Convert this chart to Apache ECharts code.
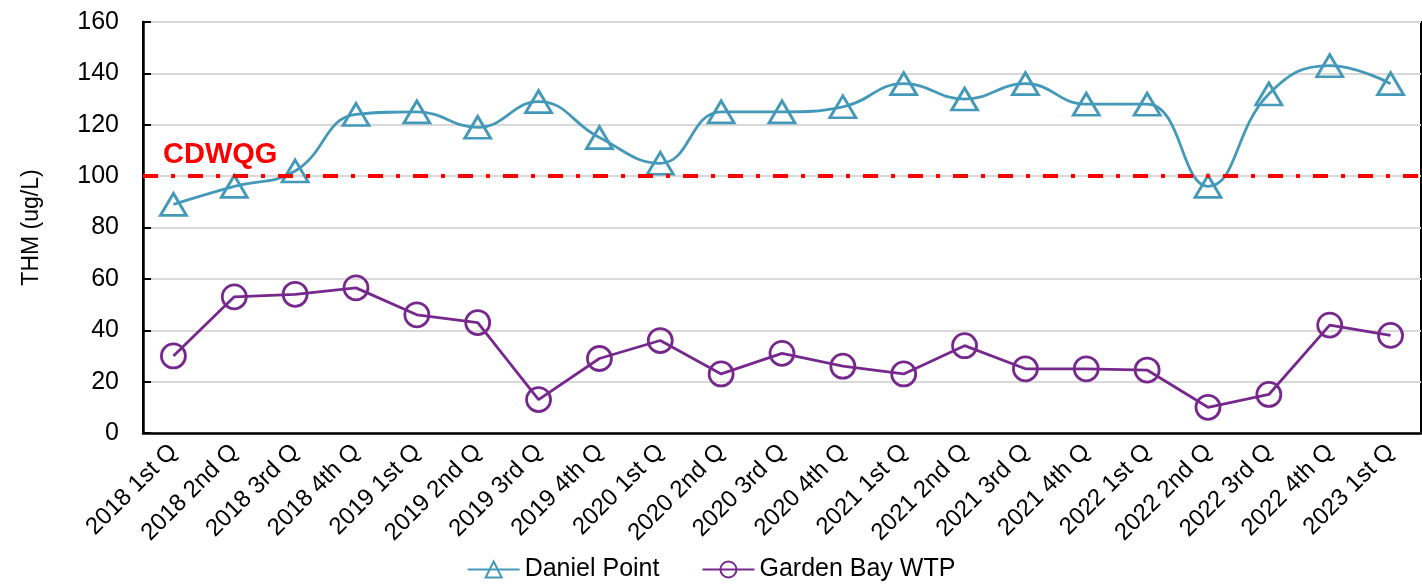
<!DOCTYPE html>
<html>
<head>
<meta charset="utf-8">
<script src="https://cdn.jsdelivr.net/npm/echarts@6/dist/echarts.min.js"></script>
<style>
  html, body { margin: 0; padding: 0; background: #fff; }
  #chart { width: 1422px; height: 587px; }
</style>
</head>
<body>
<div id="chart"></div>
<script>
const quarters = [
  '2018 1st Q', '2018 2nd Q', '2018 3rd Q', '2018 4th Q',
  '2019 1st Q', '2019 2nd Q', '2019 3rd Q', '2019 4th Q',
  '2020 1st Q', '2020 2nd Q', '2020 3rd Q', '2020 4th Q',
  '2021 1st Q', '2021 2nd Q', '2021 3rd Q', '2021 4th Q',
  '2022 1st Q', '2022 2nd Q', '2022 3rd Q', '2022 4th Q',
  '2023 1st Q'
]
// THM (ug/L)
const danielPoint = [89, 96, 102, 124, 125, 119, 129, 115, 105, 125, 125, 127, 136, 130, 136, 128, 128, 96, 132, 143, 136]
const gardenBay = [30, 53, 54, 56.5, 46, 43, 13, 29, 36, 23, 31, 26, 23, 34, 25, 25, 24.5, 10, 15, 42, 38]
const cdwqg = 100

const font = 'Liberation Sans, Arial, sans-serif'
const chart = echarts.init(document.getElementById('chart'))

chart.setOption({
  animation: false,
  textStyle: { fontFamily: font, color: '#000' },
  grid: {
    left: 143, right: 1, top: 22, bottom: 154,
    show: true, borderColor: '#000', borderWidth: 2
  },
  legend: {
    left: 'center', bottom: 0,
    itemWidth: 52, itemHeight: 20, itemGap: 42,
    textStyle: { fontSize: 25, color: '#000', fontFamily: font },
    data: ['Daniel Point', 'Garden Bay WTP']
  },
  xAxis: {
    type: 'category',
    data: quarters,
    boundaryGap: true,
    axisLine: { lineStyle: { color: '#000', width: 2.5 } },
    axisTick: { inside: true, length: 12, lineStyle: { color: '#000', width: 2 } },
    axisLabel: { rotate: 45, fontSize: 24, color: '#000', margin: 15, interval: 0 },
    splitLine: { show: false }
  },
  yAxis: {
    type: 'value',
    min: 0, max: 160, interval: 20,
    name: 'THM (ug/L)',
    nameLocation: 'middle',
    nameGap: 100,
    nameTextStyle: { fontSize: 23, color: '#000' },
    axisLine: { show: true, lineStyle: { color: '#000', width: 2.5 } },
    axisTick: { show: true, inside: true, length: 8, lineStyle: { color: '#000', width: 2 } },
    axisLabel: { fontSize: 25, color: '#000', margin: 24 },
    splitLine: { lineStyle: { color: '#d9d9d9', width: 2 } }
  },
  series: [
    {
      name: 'Daniel Point',
      type: 'line',
      data: danielPoint,
      smooth: 0.45,
      symbol: 'triangle',
      symbolSize: [26, 22],
      color: '#4499b9',
      lineStyle: { width: 2.8, color: '#4499b9' },
      itemStyle: { color: 'rgba(255,255,255,0)', borderColor: '#4499b9', borderWidth: 2.8 },
      markLine: {
        silent: true,
        symbol: 'none',
        data: [{ yAxis: cdwqg }],
        lineStyle: { color: '#ff0000', width: 4, type: [15, 13, 4, 13] },
        label: {
          show: true,
          position: 'insideStartTop',
          formatter: 'CDWQG',
          color: '#ff0000',
          fontWeight: 'bold',
          fontSize: 29,
          fontFamily: font,
          distance: [20, 7]
        }
      },
      z: 3
    },
    {
      name: 'Garden Bay WTP',
      type: 'line',
      data: gardenBay,
      symbol: 'circle',
      symbolSize: 24,
      color: '#76288c',
      lineStyle: { width: 2.8, color: '#76288c' },
      itemStyle: { color: 'rgba(255,255,255,0)', borderColor: '#76288c', borderWidth: 2.8 },
      z: 3
    }
  ]
})
</script>
</body>
</html>
